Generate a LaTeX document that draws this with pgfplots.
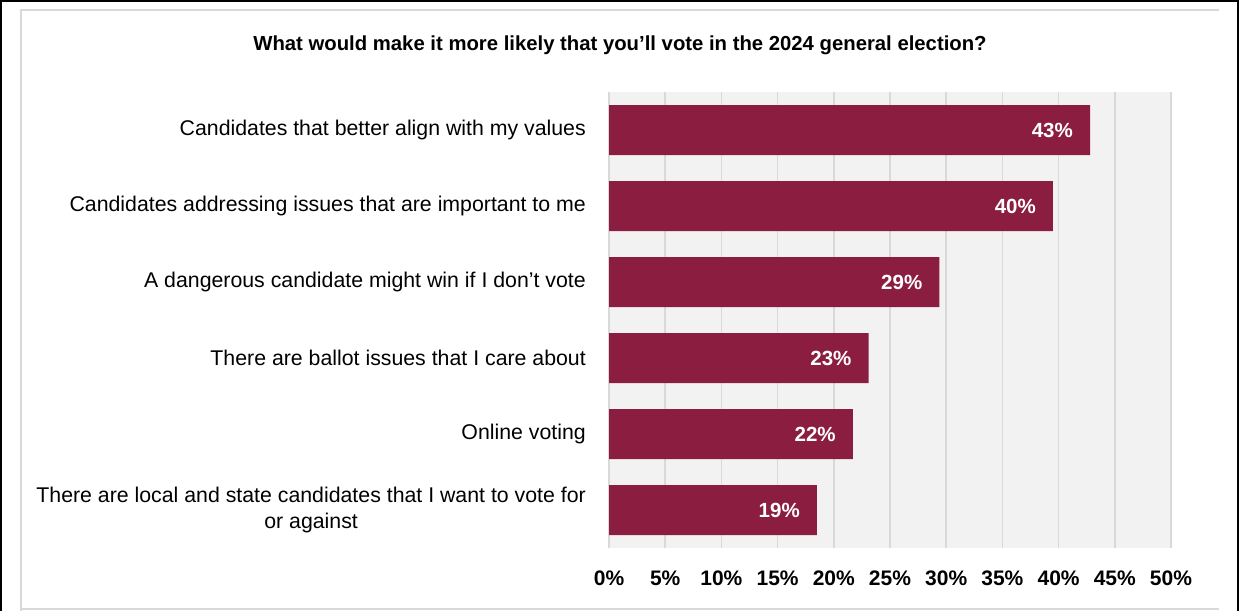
\documentclass[border=0pt]{standalone}
\usepackage{pgfplots}
\pgfplotsset{compat=1.18}
\usepackage{pgfplotstable}
\usepackage{fontspec}
\setmainfont{Liberation Sans}
\definecolor{barc}{RGB}{139,29,65}
\definecolor{bgc}{RGB}{242,242,242}
\definecolor{gridc}{RGB}{217,217,217}
\pgfplotstableread{
y x lab
5 42.8 43\%
4 39.5 40\%
3 29.4 29\%
2 23.1 23\%
1 21.7 22\%
0 18.5 19\%
}\datatab
\begin{document}
\begin{tikzpicture}
\useasboundingbox (0pt,0pt) rectangle (1239pt,611pt);
\fill[white] (0pt,0pt) rectangle (1239pt,611pt);
\fill[black] (0pt,0pt) rectangle (2pt,611pt);
\fill[black] (0pt,609pt) rectangle (1239pt,611pt);
\fill[black] (1237pt,0pt) rectangle (1239pt,611pt);
\draw[gridc,line width=2pt] (21pt,0pt) -- (21pt,600.5pt) -- (1219pt,600.5pt);
\draw[gridc,line width=2pt] (21pt,2pt) -- (1219pt,2pt);
\node[font=\bfseries\fontsize{20.3}{24}\selectfont] at (620pt,566pt) {What would make it more likely that you’ll vote in the 2024 general election?};
\begin{axis}[
  at={(609pt,63pt)}, anchor=south west,
  scale only axis, width=562pt, height=456pt,
  xbar, bar width=50pt,
  xmin=0, xmax=50, ymin=-0.5, ymax=5.5,
  axis background/.style={fill=bgc},
  axis line style={draw=none},
  xmajorgrids, grid style={gridc,line width=1.6pt},
  major tick length=0pt,
  xtick={0,5,...,50},
  xticklabels={0\%,5\%,10\%,15\%,20\%,25\%,30\%,35\%,40\%,45\%,50\%},
  xticklabel style={font=\bfseries\fontsize{21}{25}\selectfont, inner sep=0pt, anchor=center, yshift=-30pt},
  ytick={0,...,5},
  yticklabels={{There are local and state candidates that I want to vote for\\or against},Online voting,There are ballot issues that I care about,A dangerous candidate might win if I don’t vote,Candidates addressing issues that are important to me,Candidates that better align with my values},
  yticklabel style={font=\fontsize{21.3}{26}\selectfont, align=center, anchor=east, inner sep=0pt, xshift=-23pt},
  nodes near coords,
  point meta=explicit symbolic,
  nodes near coords style={anchor=east, inner sep=0pt, xshift=-17pt, text=white, font=\bfseries\fontsize{20.5}{24}\selectfont},
]
\addplot[fill=barc, draw=none] table[x=x, y=y, meta=lab] {\datatab};
\end{axis}
\end{tikzpicture}
\end{document}
